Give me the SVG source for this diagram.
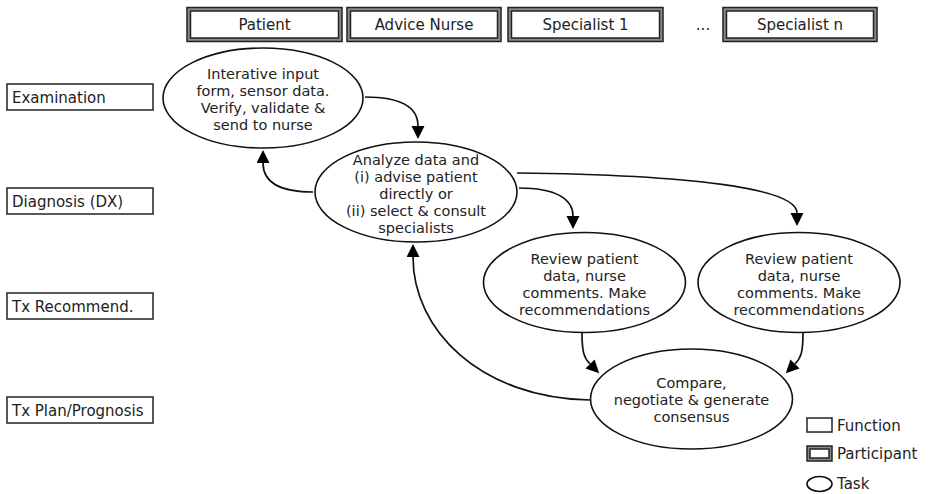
<svg xmlns="http://www.w3.org/2000/svg" width="930" height="494" viewBox="0 0 930 494">
  <style>
    text { font-family: "DejaVu Sans", "Liberation Sans", sans-serif; font-size: 15px; fill: #222; }
    .c { text-anchor: middle; }
    .t { font-size: 14.5px; }
    .fn { fill: #fff; stroke: #222; stroke-width: 1.5; }
    .po { fill: #8a8a8a; stroke: #222; stroke-width: 1.5; }
    .pi { fill: #fff; stroke: #222; stroke-width: 1.5; }
    .task { fill: #fff; stroke: #111; stroke-width: 1.6; }
    .edge { fill: none; stroke: #111; stroke-width: 1.7; marker-end: url(#arrow); }
  </style>
  <defs>
    <marker id="arrow" markerUnits="userSpaceOnUse" markerWidth="14" markerHeight="14" refX="0" refY="6.5" orient="auto">
      <path d="M0,0 L13,6.5 L0,13 z" fill="#000"/>
    </marker>
  </defs>
  <rect width="930" height="494" fill="#fff"/>

  <!-- participants -->
  <g id="participant-patient">
    <rect class="po" x="187" y="7.5" width="155" height="34"/>
    <rect class="pi" x="190.5" y="11" width="148" height="27"/>
    <text class="c" x="264.5" y="29.5">Patient</text>
  </g>
  <g id="participant-nurse">
    <rect class="po" x="347" y="7.5" width="154" height="34"/>
    <rect class="pi" x="350.5" y="11" width="147" height="27"/>
    <text class="c" x="424" y="29.5">Advice Nurse</text>
  </g>
  <g id="participant-specialist-1">
    <rect class="po" x="508" y="7.5" width="155" height="34"/>
    <rect class="pi" x="511.5" y="11" width="148" height="27"/>
    <text class="c" x="585.5" y="29.5">Specialist 1</text>
  </g>
  <text class="c" x="703" y="29.5">...</text>
  <g id="participant-specialist-n">
    <rect class="po" x="723" y="7.5" width="154" height="34"/>
    <rect class="pi" x="726.5" y="11" width="147" height="27"/>
    <text class="c" x="800" y="29.5">Specialist n</text>
  </g>

  <!-- functions -->
  <g id="fn-examination">
    <rect class="fn" x="7" y="84" width="146" height="26"/>
    <text x="12" y="103">Examination</text>
  </g>
  <g id="fn-diagnosis">
    <rect class="fn" x="7" y="188" width="146" height="26"/>
    <text x="12" y="207">Diagnosis (DX)</text>
  </g>
  <g id="fn-recommend">
    <rect class="fn" x="7" y="293" width="146" height="26"/>
    <text x="12" y="312">Tx Recommend.</text>
  </g>
  <g id="fn-plan">
    <rect class="fn" x="7" y="397" width="146" height="26"/>
    <text x="12" y="416">Tx Plan/Prognosis</text>
  </g>

  <!-- connectors -->
  <g id="connectors">
    <path class="edge" d="M365,97 C402,97 418,108 418,126"/>
    <path class="edge" d="M313,192 C278,192 263,182 263,163"/>
    <path class="edge" d="M519,188 C556,188 573,199 573,216"/>
    <path class="edge" d="M517,173 C690,175 797,188 797,213"/>
    <path class="edge" d="M582,333 C582,352 584,358 590,364"/>
    <path class="edge" d="M803,333 C803,352 801,358 795,364"/>
    <path class="edge" d="M590,400 C480,398 413,330 413,257"/>
  </g>

  <!-- tasks -->
  <g id="task-input">
    <ellipse class="task" cx="263" cy="98" rx="100" ry="50"/>
    <text class="c t" x="263" y="78.5">Interative input</text>
    <text class="c t" x="263" y="95.5">form, sensor data.</text>
    <text class="c t" x="263" y="112.5">Verify, validate &amp;</text>
    <text class="c t" x="263" y="129.5">send to nurse</text>
  </g>
  <g id="task-analyze">
    <ellipse class="task" cx="416" cy="192" rx="101" ry="50"/>
    <text class="c t" x="416" y="165">Analyze data and</text>
    <text class="c t" x="416" y="182">(i) advise patient</text>
    <text class="c t" x="416" y="199">directly or</text>
    <text class="c t" x="416" y="216">(ii) select &amp; consult</text>
    <text class="c t" x="416" y="233">specialists</text>
  </g>
  <g id="task-review-1">
    <ellipse class="task" cx="584.5" cy="282.5" rx="101" ry="50"/>
    <text class="c t" x="584.5" y="263.5">Review patient</text>
    <text class="c t" x="584.5" y="280.5">data, nurse</text>
    <text class="c t" x="584.5" y="297.5">comments. Make</text>
    <text class="c t" x="584.5" y="314.5">recommendations</text>
  </g>
  <g id="task-review-n">
    <ellipse class="task" cx="799" cy="282.5" rx="101" ry="50"/>
    <text class="c t" x="799" y="263.5">Review patient</text>
    <text class="c t" x="799" y="280.5">data, nurse</text>
    <text class="c t" x="799" y="297.5">comments. Make</text>
    <text class="c t" x="799" y="314.5">recommendations</text>
  </g>
  <g id="task-consensus">
    <ellipse class="task" cx="691.5" cy="399" rx="101" ry="50"/>
    <text class="c t" x="691.5" y="388">Compare,</text>
    <text class="c t" x="691.5" y="405">negotiate &amp; generate</text>
    <text class="c t" x="691.5" y="422">consensus</text>
  </g>

  <!-- legend -->
  <g id="legend">
    <rect class="fn" x="807" y="418" width="25" height="14"/>
    <text x="837" y="431">Function</text>
    <rect class="po" x="807" y="446" width="25" height="15"/>
    <rect class="pi" x="810" y="449" width="19" height="9"/>
    <text x="837" y="459">Participant</text>
    <ellipse class="task" cx="819.5" cy="484" rx="12.5" ry="7.5"/>
    <text x="837" y="489">Task</text>
  </g>
</svg>
